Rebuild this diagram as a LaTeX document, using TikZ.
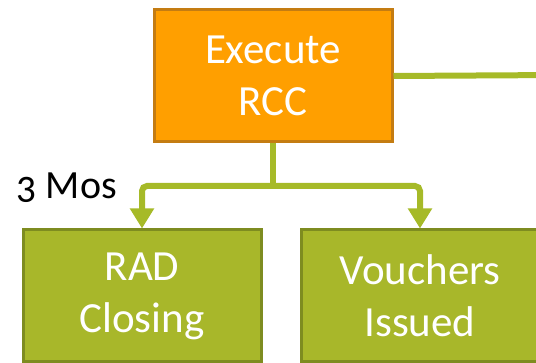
\documentclass[tikz,border=0pt]{standalone}
\usepackage{fontspec}
\setmainfont{Carlito}
\usetikzlibrary{arrows.meta}

\definecolor{rccorange}{RGB}{255,159,0}
\definecolor{rccedge}{RGB}{196,124,18}
\definecolor{leafgreen}{RGB}{168,183,42}
\definecolor{leafedge}{RGB}{126,140,32}
\definecolor{linkgreen}{RGB}{166,186,40}

\tikzset{
  stepbox/.style={draw, line width=3pt, text=white, align=center,
    minimum width=238pt, minimum height=132pt, inner sep=0pt,
    font=\fontsize{43}{52}\selectfont},
  link/.style={draw=linkgreen, line width=6pt},
  down/.style={link, -{Triangle[width=23pt,length=20pt]}}
}

\begin{document}
\begin{tikzpicture}[x=1pt,y=-1pt]
   \clip (0,0) rectangle (536,363);

   \node[stepbox, fill=rccorange, draw=rccedge] (rcc) at (273,76) {Execute\\RCC};
   \node[stepbox, fill=leafgreen, draw=leafedge] (rad) at (142,296) {RAD\\Closing};
   \node[stepbox, fill=leafgreen, draw=leafedge] (vouchers) at (420,296) {Vouchers\\Issued};

   \node[anchor=base west, font=\fontsize{40}{48}\selectfont] (months) at (13,199)
        {\addfontfeatures{Numbers=OldStyle}3 Mos};

   \coordinate (split) at (273,186);
   \coordinate (radbend) at (142,200);
   \coordinate (voucherbend) at (420,200);
   \coordinate (offpage) at (560,75);

   \draw[link] (rcc.south) -- (split);
   \draw[down] (split) [rounded corners=5pt] -| (radbend) [sharp corners] -- (rad.north);
   \draw[down] (split) [rounded corners=5pt] -| (voucherbend) [sharp corners] -- (vouchers.north);
   \draw[link] (rcc.east) -- (offpage);
\end{tikzpicture}
\end{document}
